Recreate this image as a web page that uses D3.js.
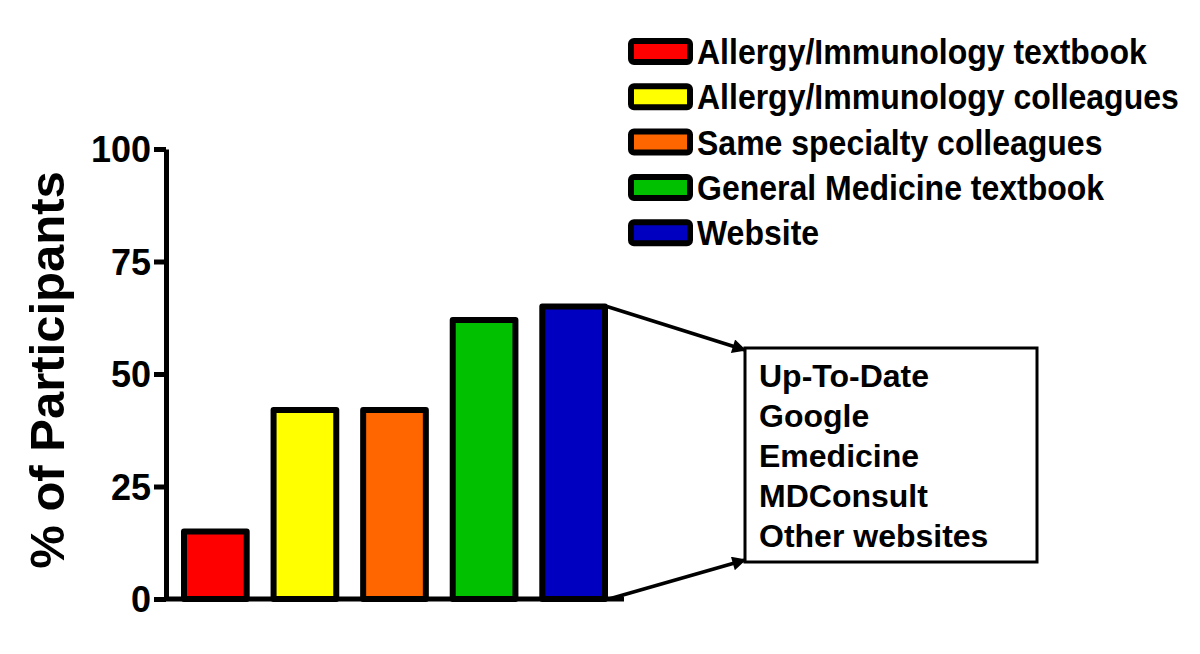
<!DOCTYPE html>
<meta charset="utf-8">
<style>
body { margin: 0; background: #fff; }
svg text { font-family: "Liberation Sans", Arial, sans-serif; font-weight: bold; fill: #000; }
.axis path, .axis line { stroke: #000; stroke-width: 5; }
</style>
<body>
<svg width="1200" height="654"></svg>
<script src="https://d3js.org/d3.v7.min.js"></script>
<script>
// data
var categories = ["Allergy/Immunology textbook", "Allergy/Immunology colleagues",
                  "Same specialty colleagues", "General Medicine textbook", "Website"];
var values = [15, 42, 42, 62, 65];
var colors = ["#ff0000", "#ffff00", "#ff6600", "#00c000", "#0000c0"];
var yTicks = [0, 25, 50, 75, 100];
var websites = ["Up-To-Date", "Google", "Emedicine", "MDConsult", "Other websites"];

var svg = d3.select("svg");

var x = d3.scaleBand().domain(categories).range([184, 605]).paddingInner(0.3).paddingOuter(0),
    y = d3.scaleLinear().domain([0, 100]).range([599, 149]);

// bars
svg.selectAll(".bar")
  .data(values)
  .enter().append("rect")
    .attr("class", "bar")
    .attr("x", function(d, i) { return x(categories[i]); })
    .attr("y", function(d) { return y(d); })
    .attr("width", x.bandwidth())
    .attr("height", function(d) { return y(0) - y(d); })
    .attr("fill", function(d, i) { return colors[i]; })
    .attr("stroke", "#000")
    .attr("stroke-width", 6)
    .attr("stroke-linejoin", "round");

// y axis
var yAxis = svg.append("g")
    .attr("class", "axis")
    .attr("transform", "translate(166,0)")
    .call(d3.axisLeft(y).tickValues(yTicks).tickSize(12).tickSizeOuter(0).tickPadding(3));
yAxis.selectAll("text").style("font-size", "36px").attr("dy", "0.36em");

// x axis line (no ticks)
svg.append("line")
    .attr("x1", 164).attr("x2", 624)
    .attr("y1", y(0)).attr("y2", y(0))
    .attr("stroke", "#000").attr("stroke-width", 5);

// y title
svg.append("text")
    .attr("transform", "translate(64,370) rotate(-90)")
    .attr("text-anchor", "middle")
    .style("font-size", "49px")
    .text("% of Participants");

// legend
var legend = svg.selectAll(".legend")
  .data(categories)
  .enter().append("g")
    .attr("class", "legend")
    .attr("transform", function(d, i) { return "translate(0," + (i * 45.3) + ")"; });

legend.append("rect")
    .attr("x", 631).attr("y", 41)
    .attr("width", 59).attr("height", 21)
    .attr("fill", function(d, i) { return colors[i]; })
    .attr("stroke", "#000").attr("stroke-width", 6)
    .attr("rx", 3);

legend.append("text")
    .attr("transform", "translate(697,64) scale(1,1.08)")
    .style("font-size", "32px")
    .text(function(d) { return d; });

// callout box
var defs = svg.append("defs");
defs.append("marker")
    .attr("id", "head")
    .attr("viewBox", "0 0 10 10")
    .attr("refX", 9).attr("refY", 5)
    .attr("markerWidth", 5).attr("markerHeight", 4)
    .attr("markerUnits", "strokeWidth")
    .attr("orient", "auto")
  .append("path").attr("d", "M0,0L10,5L0,10z").attr("fill", "#000");

var bx = 745, by = 348, bw = 292, bh = 214;
var lastX = x(categories[4]) + x.bandwidth();

svg.append("rect")
    .attr("x", bx).attr("y", by).attr("width", bw).attr("height", bh)
    .attr("fill", "none").attr("stroke", "#000").attr("stroke-width", 3);

svg.append("line")
    .attr("x1", lastX + 2).attr("y1", y(values[4]))
    .attr("x2", bx).attr("y2", by + 2)
    .attr("stroke", "#000").attr("stroke-width", 3.5)
    .attr("marker-end", "url(#head)");

svg.append("line")
    .attr("x1", lastX + 4).attr("y1", y(0))
    .attr("x2", bx).attr("y2", by + bh - 2)
    .attr("stroke", "#000").attr("stroke-width", 3.5)
    .attr("marker-end", "url(#head)");

svg.selectAll(".site")
  .data(websites)
  .enter().append("text")
    .attr("class", "site")
    .attr("x", 759)
    .attr("y", function(d, i) { return 387 + i * 40; })
    .style("font-size", "32px")
    .text(function(d) { return d; });
</script>
</body>
